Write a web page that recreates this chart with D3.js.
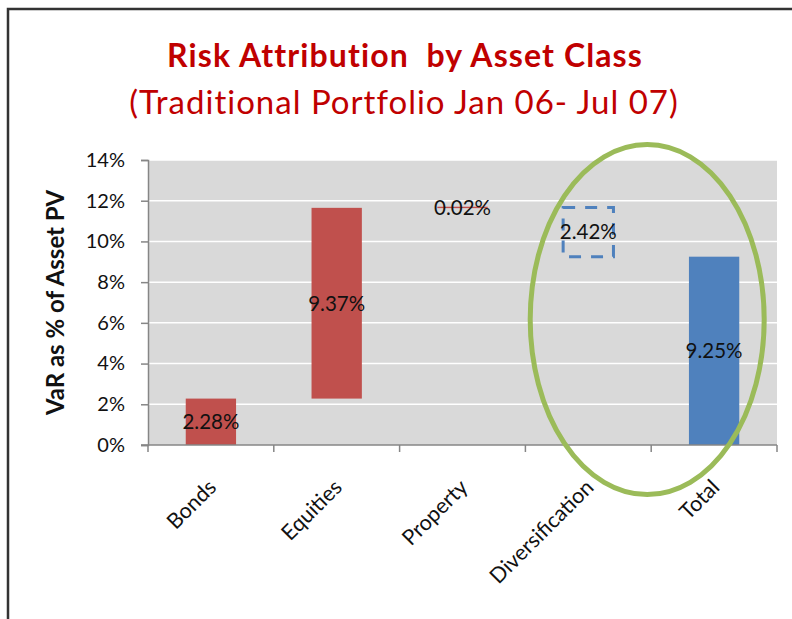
<html>
<head>
<style>
body { margin: 0; background: #fff; }
text { font-family: Lato, "Open Sans", sans-serif; }
</style>
</head>
<body>
<svg width="792" height="619" id="chart"></svg>

<script src="https://cdn.jsdelivr.net/npm/d3@7"></script>
<script>
// waterfall of VaR contributions
var categories = ["Bonds", "Equities", "Property", "Diversification", "Total"];
var values = [2.28, 9.37, 0.02, -2.42, 9.25];
var kinds = ["part", "part", "part", "offset", "total"];
var yTicks = [0, 2, 4, 6, 8, 10, 12, 14];

var svg = d3.select("#chart");

// frame
svg.append("path")
    .attr("d", "M8,619 L8,9 L792,9")
    .attr("fill", "none")
    .attr("stroke", "#333")
    .attr("stroke-width", 2.5);

svg.append("text")
    .attr("x", 405).attr("y", 67)
    .attr("text-anchor", "middle")
    .attr("font-size", 32).attr("font-weight", "bold")
    .attr("letter-spacing", 1.1)
    .attr("fill", "#C00000")
    .attr("xml:space", "preserve")
    .text("Risk Attribution  by Asset Class");
svg.append("text")
    .attr("x", 404).attr("y", 114)
    .attr("text-anchor", "middle")
    .attr("font-size", 33)
    .attr("letter-spacing", 1)
    .attr("fill", "#C00000")
    .text("(Traditional Portfolio Jan 06- Jul 07)");

var pLeft = 148, pRight = 777, pTop = 160, pBottom = 445;

var x = d3.scaleBand().domain(categories).range([pLeft, pRight])
    .paddingInner(0.6).paddingOuter(0.3);
var y = d3.scaleLinear().domain([0, 14]).range([pBottom, pTop]);

svg.append("rect")
    .attr("x", pLeft).attr("y", pTop)
    .attr("width", pRight - pLeft).attr("height", pBottom - pTop)
    .attr("fill", "#D9D9D9");

svg.append("g").selectAll("line")
    .data(yTicks.slice(1))
    .enter().append("line")
    .attr("x1", pLeft).attr("x2", pRight)
    .attr("y1", function(d) { return y(d); })
    .attr("y2", function(d) { return y(d); })
    .attr("stroke", "#fff").attr("stroke-width", 1.5);

// running totals
var rows = [];
var run = 0;
categories.forEach(function(c, i) {
    var v = values[i], from, to;
    if (kinds[i] == "total") { from = 0; to = v; run = v; }
    else { from = run; to = run + v; run = to; }
    rows.push({cat: c, v: v, kind: kinds[i], lo: Math.min(from, to), hi: Math.max(from, to)});
});

var bars = svg.append("g");
bars.selectAll("rect")
    .data(rows)
    .enter().append("rect")
    .attr("x", function(d) { return x(d.cat); })
    .attr("width", x.bandwidth())
    .attr("y", function(d) { return y(d.hi) - (d.hi - d.lo < 0.1 ? 0.7 : 0); })
    .attr("height", function(d) { return Math.max(y(d.lo) - y(d.hi), 1.4); })
    .attr("fill", function(d) {
        return d.kind == "part" ? "#C0504D" : d.kind == "total" ? "#4F81BD" : "none";
    })
    .attr("stroke", function(d) { return d.kind == "offset" ? "#4F81BD" : "none"; })
    .attr("stroke-width", 3)
    .attr("stroke-dasharray", function(d) { return d.kind == "offset" ? "12,10" : null; });

bars.selectAll("text")
    .data(rows)
    .enter().append("text")
    .attr("x", function(d) { return x(d.cat) + x.bandwidth() / 2; })
    .attr("y", function(d) { return y((d.lo + d.hi) / 2); })
    .attr("dy", "0.36em")
    .attr("text-anchor", "middle")
    .attr("font-size", 20.5)
    .attr("fill", "#111")
    .text(function(d) { return Math.abs(d.v).toFixed(2) + "%"; });

// axes
var yAxis = svg.append("g")
    .attr("transform", "translate(" + pLeft + ",0)")
    .call(d3.axisLeft(y).tickValues(yTicks).tickSize(7).tickPadding(16)
        .tickFormat(function(d) { return d + "%"; }));
yAxis.selectAll("line, path").attr("stroke", "#868686").attr("stroke-width", 1.5);
yAxis.selectAll("text").attr("font-size", 20).attr("fill", "#111").attr("font-family", "Lato");

var xAxis = svg.append("g")
    .attr("transform", "translate(0," + pBottom + ")");
xAxis.append("line")
    .attr("x1", pLeft - 7).attr("x2", pRight)
    .attr("stroke", "#868686").attr("stroke-width", 1.5);
xAxis.selectAll(".tk")
    .data(d3.range(categories.length + 1))
    .enter().append("line")
    .attr("class", "tk")
    .attr("x1", function(i) { return pLeft + i * x.step(); })
    .attr("x2", function(i) { return pLeft + i * x.step(); })
    .attr("y1", 0).attr("y2", 7)
    .attr("stroke", "#868686").attr("stroke-width", 1.5);
xAxis.selectAll(".lbl")
    .data(categories)
    .enter().append("text")
    .attr("class", "lbl")
    .attr("transform", function(d) {
        return "translate(" + (x(d) + x.bandwidth() / 2 - 4) + ",33) rotate(-45)";
    })
    .attr("text-anchor", "end")
    .attr("dy", "0.7em")
    .attr("font-size", 21.5)
    .attr("fill", "#111")
    .text(function(d) { return d; });

svg.append("text")
    .attr("transform", "translate(64," + (pTop + pBottom) / 2 + ") rotate(-90)")
    .attr("text-anchor", "middle")
    .attr("font-size", 24).attr("font-weight", "bold")
    .attr("fill", "#111")
    .text("VaR as % of Asset PV");

// highlight around diversification and total
var cx = (x("Diversification") + x("Total") + x.bandwidth()) / 2 - 4;
svg.append("ellipse")
    .attr("cx", cx).attr("cy", y(6.16))
    .attr("rx", 117).attr("ry", 175)
    .attr("fill", "none")
    .attr("stroke", "#9BBB59").attr("stroke-width", 5);
</script>
</body>
</html>
